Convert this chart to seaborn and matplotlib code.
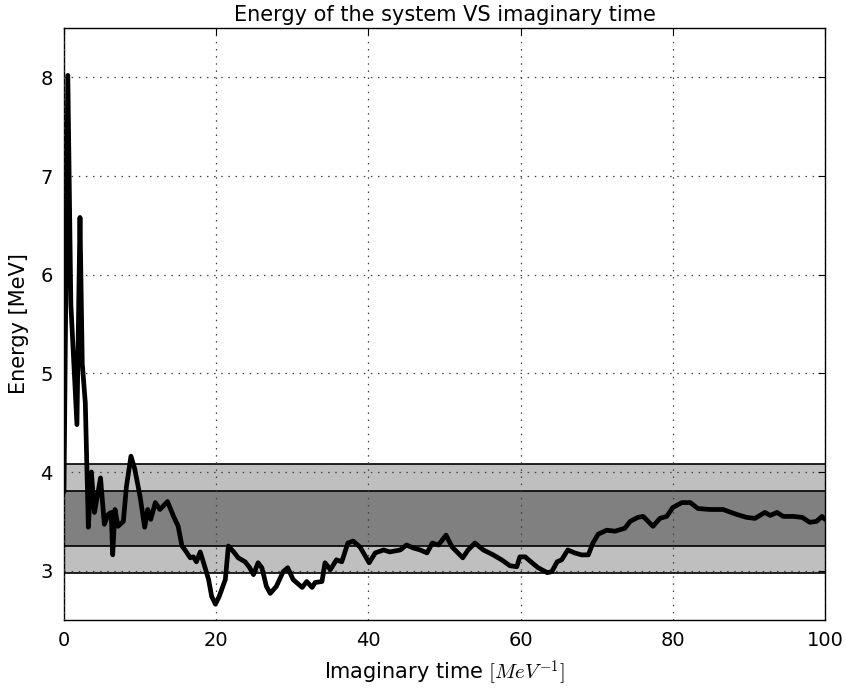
import matplotlib
matplotlib.use("Agg")
import matplotlib.pyplot as plt
import seaborn as sns
import pandas as pd

# ---- data ----
time = [0.0, 0.5, 0.9, 1.7, 2.1, 2.4, 2.8, 3.2, 3.6, 4.0, 4.8, 5.3, 5.8, 6.2, 6.4, 6.7,
        7.1, 7.8, 8.2, 8.8, 9.3, 10.0, 10.6, 11.0, 11.4, 12.0, 12.6, 13.6, 14.4, 15.0,
        15.5, 15.9, 16.6, 17.0, 17.4, 17.9, 18.5, 19.0, 19.4, 19.9, 20.4, 21.2, 21.6,
        22.3, 22.9, 23.8, 24.4, 24.9, 25.5, 26.0, 26.6, 27.1, 27.9, 28.8, 29.4, 30.1,
        31.3, 31.9, 32.6, 33.0, 33.9, 34.3, 35.0, 35.8, 36.5, 37.3, 38.0, 38.9, 39.5,
        40.1, 40.9, 42.0, 42.8, 44.2, 45.0, 45.9, 46.8, 47.7, 48.4, 49.2, 50.2, 51.0,
        52.4, 53.1, 54.0, 55.1, 56.4, 57.5, 58.6, 59.5, 59.9, 60.6, 61.5, 62.3, 63.5,
        64.1, 64.8, 65.4, 66.2, 67.1, 68.0, 68.9, 69.5, 70.2, 71.3, 72.4, 73.7, 74.4,
        75.4, 76.1, 77.4, 78.3, 79.2, 80.0, 81.2, 82.3, 83.3, 84.9, 86.6, 88.4, 89.7,
        90.8, 92.1, 92.8, 93.7, 94.5, 95.8, 97.0, 98.0, 98.9, 99.6, 100.0]
energy = [3.80, 8.02, 5.70, 4.48, 6.58, 5.10, 4.70, 3.44, 4.00, 3.59, 3.94, 3.47, 3.57,
          3.59, 3.16, 3.62, 3.45, 3.50, 3.85, 4.16, 4.03, 3.75, 3.44, 3.62, 3.52, 3.69,
          3.62, 3.70, 3.55, 3.45, 3.25, 3.21, 3.13, 3.14, 3.09, 3.19, 3.04, 2.91, 2.74,
          2.66, 2.74, 2.91, 3.25, 3.19, 3.13, 3.09, 3.03, 2.96, 3.08, 3.03, 2.84, 2.77,
          2.84, 2.99, 3.03, 2.91, 2.83, 2.89, 2.83, 2.88, 2.89, 3.08, 3.01, 3.11, 3.09,
          3.28, 3.30, 3.24, 3.16, 3.08, 3.18, 3.21, 3.19, 3.21, 3.26, 3.23, 3.21, 3.18,
          3.28, 3.26, 3.36, 3.24, 3.13, 3.21, 3.28, 3.21, 3.16, 3.11, 3.05, 3.04, 3.14,
          3.14, 3.08, 3.03, 2.98, 2.99, 3.09, 3.11, 3.21, 3.18, 3.16, 3.16, 3.28, 3.37,
          3.41, 3.40, 3.43, 3.50, 3.54, 3.55, 3.45, 3.53, 3.55, 3.64, 3.69, 3.69, 3.63,
          3.62, 3.62, 3.57, 3.54, 3.53, 3.59, 3.56, 3.59, 3.55, 3.55, 3.54, 3.49, 3.50,
          3.55, 3.52]
band_inner = [3.25, 3.81]   # mean +/- sigma
band_outer = [2.98, 4.08]   # mean +/- 1.96 sigma
x_ticks = [0, 20, 40, 60, 80, 100]
y_ticks = [3, 4, 5, 6, 7, 8]

df = pd.DataFrame({"time": time, "energy": energy})

sns.set_style("white")
plt.rcParams["font.family"] = ["DejaVu Sans"]
plt.rcParams["mathtext.fontset"] = "cm"
plt.rcParams["text.color"] = "black"
plt.rcParams["axes.labelcolor"] = "black"

fig = plt.figure(figsize=(8.46, 6.90), dpi=100)
ax = fig.add_axes([64 / 846, 1 - 620 / 690, (825 - 64) / 846, (620 - 28) / 690])

ax.axhspan(band_outer[0], band_outer[1], color="0.75", lw=0, zorder=1)
ax.axhspan(band_inner[0], band_inner[1], color="0.5", lw=0, zorder=1.1)
for v in band_outer + band_inner:
    ax.axhline(v, color="black", lw=1.2, zorder=1.2)

sns.lineplot(data=df, x="time", y="energy", estimator=None, sort=False,
             color="black", lw=3.4, ax=ax, zorder=3)

ax.set_xlim(0, 100)
ax.set_ylim(2.5, 8.5)
ax.set_xticks(x_ticks)
ax.set_yticks(y_ticks)
ax.grid(True, color="0.25", linestyle=(0, (1.2, 4.5)), lw=0.9, zorder=2)
ax.set_axisbelow(False)
ax.tick_params(direction="in", length=5, width=0.8, top=True, right=True,
               labelsize=14, pad=8, colors="black")
for s in ax.spines.values():
    s.set_color("black")
    s.set_linewidth(1.0)

ax.set_title("Energy of the system VS imaginary time", fontsize=15, pad=5, color="black")
ax.set_xlabel(r"Imaginary time $[MeV^{-1}]$", fontsize=15, labelpad=6)
ax.set_ylabel("Energy [MeV]", fontsize=15, labelpad=8)

fig.savefig("out.png", dpi=100, facecolor="white")
